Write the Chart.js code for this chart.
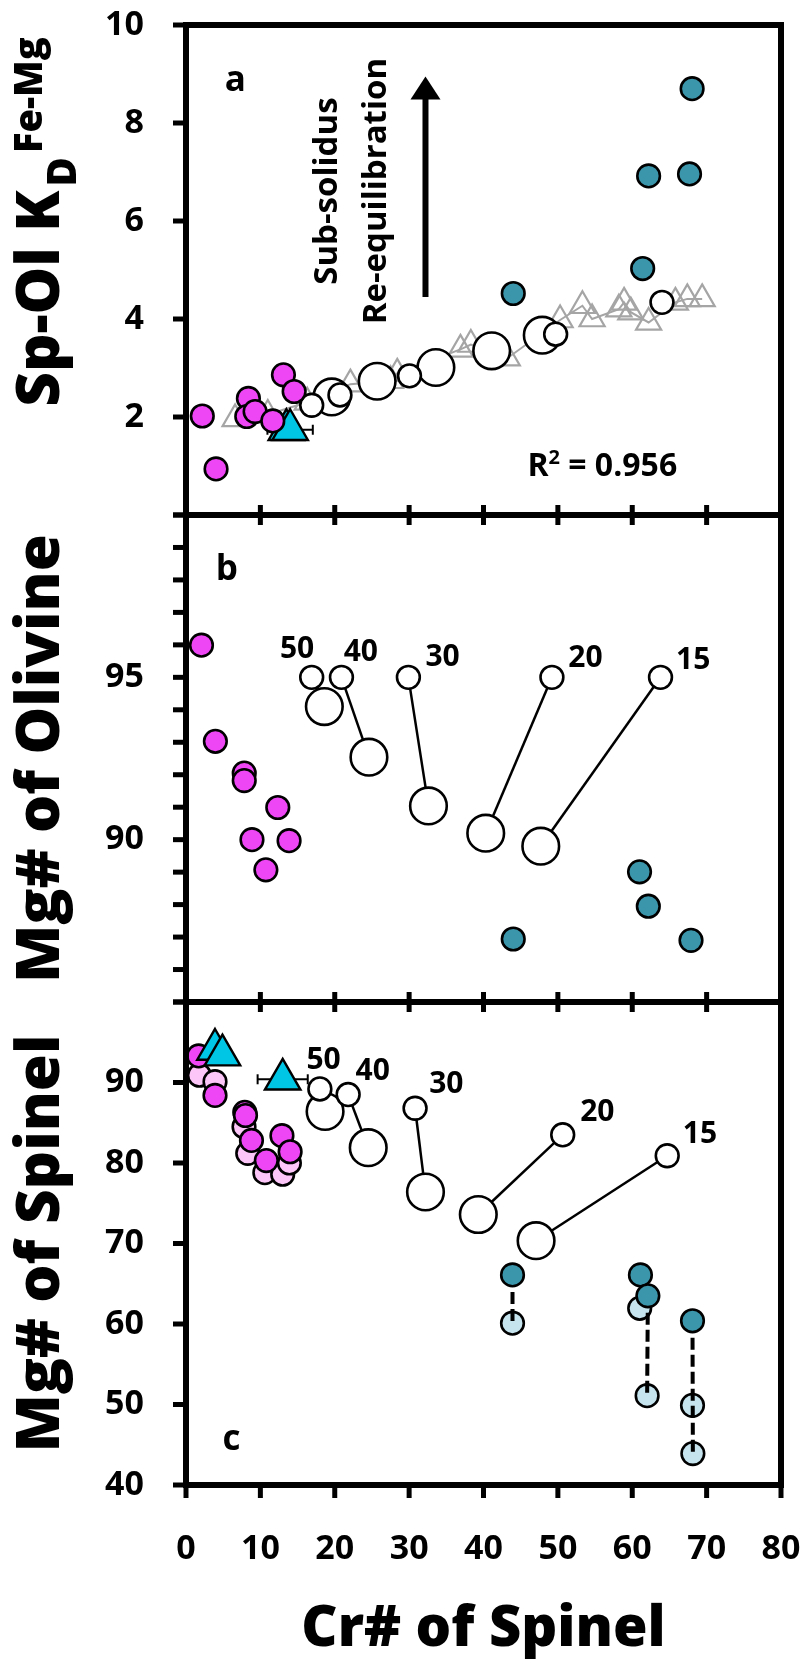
<!DOCTYPE html>
<html><head><meta charset="utf-8">
<script src="https://cdn.jsdelivr.net/npm/chart.js@4.4.1/dist/chart.umd.min.js"></script>
<style>
html,body{margin:0;padding:0;background:#fff;}
#wrap{position:relative;width:805px;height:1659px;overflow:hidden;background:#fff;}
canvas{position:absolute;left:0;top:0;}
</style></head><body>
<div id="wrap">
<canvas id="ca" width="805" height="1659"></canvas>
<canvas id="cb" width="805" height="1659"></canvas>
<canvas id="cc" width="805" height="1659"></canvas>
</div>
<script>
// ---------------- data ----------------
const xTickValues = [0, 10, 20, 30, 40, 50, 60, 70, 80];
const xTickLabels = ['0', '10', '20', '30', '40', '50', '60', '70', '80'];
const aTickLabels = [2, 4, 6, 8, 10];
const bTickLabels = [90, 95];
const cTickLabels = [40, 50, 60, 70, 80, 90];
const meltLabels = ['50', '40', '30', '20', '15'];

// panel a : Sp-Ol KD vs Cr#
const aMagenta = [[2.19, 2.02], [4.04, 0.94], [8.39, 2.38], [8.17, 2.01], [9.29, 2.11], [11.67, 1.92], [13.1, 2.86], [14.54, 2.52]];
const aTeal = [[44.0, 4.52], [61.4, 5.03], [62.2, 6.92], [67.7, 6.96], [68.05, 8.70]];
const aCyan = [[13.5, 1.74], [14.0, 1.74]];
const aCyanErr = [[14.0, 1.74, 3.05]];
const aModelSmall = [[16.9, 2.24], [20.7, 2.45], [30.05, 2.84], [49.7, 3.69], [64.0, 4.34]];
const aModelLarge = [[19.6, 2.41], [25.7, 2.73], [33.6, 3.01], [41.1, 3.35], [47.9, 3.67]];
const aGrey = [[6.6, 1.96], [11.0, 2.05], [16.3, 2.3], [22.1, 2.67], [27.5, 2.74], [28.4, 2.89], [36.9, 3.38], [38.3, 3.48], [43.2, 3.2], [50.3, 3.98], [53.3, 4.27], [54.6, 4.0], [58.2, 4.2], [58.9, 4.34], [59.8, 4.14], [62.2, 3.93], [65.8, 4.34], [67.4, 4.41], [69.4, 4.41]];
const aArrow = [32.2, 4.45, 8.95];          // x, from, to
const aNoteText = ['Sub-solidus', 'Re-equilibration'];
const aNoteX = [19.1, 25.6];
const aNoteY = 6.61;
const aR2 = [45.9, 0.8];

// panel b : Mg# of olivine
const bMagenta = [[2.08, 95.99], [3.95, 93.03], [7.83, 92.05], [7.83, 91.82], [8.87, 90.0], [13.86, 89.97], [12.34, 90.99], [10.74, 89.07]];
const bTeal = [[60.98, 89.01], [62.16, 87.95], [44.0, 86.94], [67.9, 86.9]];
const bModelSmall = [[16.9, 95.0], [20.9, 95.0], [29.9, 95.0], [49.2, 95.0], [63.8, 95.0]];
const bModelLarge = [[18.6, 94.1], [24.6, 92.54], [32.6, 91.04], [40.3, 90.2], [47.7, 89.8]];
const bLabelPos = [[14.94, 95.87], [23.5, 95.76], [34.5, 95.61], [53.7, 95.58], [68.2, 95.53]];

// panel c : Mg# of spinel
const cMagenta = [[1.7, 93.3], [3.9, 88.4], [7.9, 86.3], [8.0, 85.9], [8.8, 82.8], [10.8, 80.3], [12.9, 83.4], [14.0, 81.4]];
const cPink = [[1.8, 90.9], [3.9, 90.1], [7.8, 84.5], [8.3, 81.2], [10.6, 78.8], [13.0, 78.6], [13.9, 80.0]];
const cTeal = [[43.9, 66.1], [61.1, 66.1], [62.1, 63.5], [68.1, 60.4]];
const cLight = [[43.9, 60.1], [61.0, 61.95], [62.0, 51.1], [68.1, 49.9], [68.15, 43.9]];
const cDash = [[[43.9, 66.1], [43.9, 60.1]], [[61.1, 66.1], [61.0, 61.95]], [[62.1, 63.5], [62.0, 51.1]], [[68.1, 60.4], [68.15, 43.9]]];
const cCyan = [[3.9, 94.1], [4.9, 93.4], [13.0, 90.4]];
const cCyanErr = [[13.0, 90.4, 3.37]];
const cModelSmall = [[18.0, 89.2], [21.8, 88.5], [30.8, 86.8], [50.65, 83.5], [64.7, 80.9]];
const cModelLarge = [[18.7, 86.4], [24.5, 81.9], [32.2, 76.4], [39.3, 73.6], [47.07, 70.35]];
const cLabelPos = [[18.5, 92.75], [25.1, 91.4], [35.0, 89.73], [55.3, 86.27], [69.1, 83.6]];

const panelLetters = [['a', 5.2, 8.66], ['b', 4.0, 98.0], ['c', 4.9, 44.35]];

// ---------------- styling / layout ----------------
const F = {left: 186, right: 781, top: 25, ab: 515, bc: 1002, bottom: 1485, W: 805, H: 1659};
const COL = {magenta: '#ee45f5', pink: '#fcc6f8', teal: '#3c96ab', light: '#c6e4ee', cyan: '#00c6e6', grey: '#a5a5a5'};
const FAM = '"Open Sans"';
const TICK_FONT = {family: FAM, weight: 'bold', size: 34};

const pts = arr => arr.map(([x, y]) => ({x, y}));
function circles(arr, fill, r, order) {
  return {data: pts(arr), pointStyle: 'circle', pointRadius: r, pointHoverRadius: r, pointBackgroundColor: fill,
    pointBorderColor: '#000', pointBorderWidth: 2.6, pointHoverBorderWidth: 2.6, showLine: false, order, clip: false};
}
function tris(arr, fill, stroke, r, bw, order, showLine) {
  return {data: pts(arr), pointStyle: 'triangle', pointRadius: r, pointHoverRadius: r, pointBackgroundColor: fill,
    pointBorderColor: stroke, pointBorderWidth: bw, pointHoverBorderWidth: bw, showLine: !!showLine,
    borderColor: stroke, borderWidth: 2, order, clip: false};
}
function seg(a, b, dash, width, order) {
  return {data: pts([a, b]), showLine: true, pointRadius: 0, pointHoverRadius: 0, borderColor: '#000',
    borderWidth: width, borderDash: dash, order, clip: false, fill: false};
}

function line(ctx, x1, y1, x2, y2) { ctx.beginPath(); ctx.moveTo(x1, y1); ctx.lineTo(x2, y2); ctx.stroke(); }

function drawFrame(chart, spec) {
  const {ctx, chartArea: ca, scales: {x, y}} = chart;
  ctx.save();
  ctx.strokeStyle = '#000';
  ctx.lineWidth = 5;
  y.ticks.forEach(t => { const py = y.getPixelForValue(t.value); line(ctx, ca.left - 13, py, ca.left, py); });
  xTickValues.forEach(v => {
    const px = x.getPixelForValue(v);
    if (spec.xCross) line(ctx, px, ca.bottom - 10, px, ca.bottom + 10);
    else line(ctx, px, ca.bottom, px, ca.bottom + 13);
  });
  ctx.lineWidth = 6;
  ctx.lineCap = 'square';
  line(ctx, ca.left, ca.top, ca.left, ca.bottom);
  line(ctx, ca.right, ca.top, ca.right, ca.bottom);
  line(ctx, ca.left, ca.bottom, ca.right, ca.bottom);
  if (spec.topLine) line(ctx, ca.left, ca.top, ca.right, ca.top);
  ctx.restore();
}

function drawErrors(chart, errs) {
  const {ctx, scales: {x, y}} = chart;
  ctx.save();
  ctx.strokeStyle = '#000';
  ctx.lineWidth = 2;
  errs.forEach(([vx, vy, e]) => {
    const py = y.getPixelForValue(vy);
    const x1 = x.getPixelForValue(vx - e), x2 = x.getPixelForValue(vx + e);
    line(ctx, x1, py, x2, py);
    line(ctx, x1, py - 5, x1, py + 5);
    line(ctx, x2, py - 5, x2, py + 5);
  });
  ctx.restore();
}

function drawRotated(ctx, segs, baseX, centerY, gap) {
  ctx.save();
  const widths = segs.map(s => { ctx.font = `800 ${s.size}px ${FAM}`; return ctx.measureText(s.t).width; });
  const total = widths.reduce((a, b) => a + b, 0) + (segs.length - 1) * gap;
  ctx.translate(baseX, centerY + total / 2);
  ctx.rotate(-Math.PI / 2);
  ctx.fillStyle = '#000';
  ctx.textAlign = 'left';
  ctx.textBaseline = 'alphabetic';
  let cx = 0;
  segs.forEach((s, i) => { ctx.font = `800 ${s.size}px ${FAM}`; ctx.fillText(s.t, cx, s.dy); cx += widths[i] + gap; });
  ctx.restore();
}

function drawLetter(chart, idx) {
  const {ctx, scales: {x, y}} = chart;
  const [t, vx, vy] = panelLetters[idx];
  ctx.save();
  ctx.fillStyle = '#000';
  ctx.font = `bold 35px ${FAM}`;
  ctx.textAlign = 'left';
  ctx.textBaseline = 'alphabetic';
  ctx.fillText(t, x.getPixelForValue(vx), y.getPixelForValue(vy));
  ctx.restore();
}

function drawMeltLabels(chart, pos) {
  const {ctx, scales: {x, y}} = chart;
  ctx.save();
  ctx.fillStyle = '#000';
  ctx.font = `bold 30px ${FAM}`;
  ctx.textAlign = 'center';
  ctx.textBaseline = 'middle';
  meltLabels.forEach((t, i) => ctx.fillText(t, x.getPixelForValue(pos[i][0]), y.getPixelForValue(pos[i][1])));
  ctx.restore();
}

function makeChart(id, spec) {
  const plugin = {
    id: 'panel_' + id,
    beforeDatasetsDraw(chart) { if (spec.errors) drawErrors(chart, spec.errors); },
    afterDatasetsDraw(chart) { drawFrame(chart, spec); },
    afterDraw(chart) { spec.extra(chart); }
  };
  return new Chart(document.getElementById(id), {
    type: 'scatter',
    data: {datasets: spec.datasets},
    options: {
      responsive: false, animation: false, events: [], devicePixelRatio: 1,
      layout: {padding: {left: 0, right: F.W - F.right, top: spec.top, bottom: spec.padBottom}},
      plugins: {legend: {display: false}, tooltip: {enabled: false}},
      scales: {
        x: {type: 'linear', min: 0, max: 80, display: spec.showX,
          afterFit: s => { s.height = spec.xHeight; s.paddingLeft = 0; s.paddingRight = 0; },
          grid: {display: false, drawTicks: false}, border: {display: false},
          ticks: {stepSize: 10, autoSkip: false, maxRotation: 0, minRotation: 0, padding: 44, font: TICK_FONT, color: '#000',
            callback: v => { const i = xTickValues.indexOf(v); return i >= 0 ? xTickLabels[i] : ''; }}},
        y: {type: 'linear', min: spec.ymin, max: spec.ymax,
          afterFit: s => { s.width = F.left; s.paddingTop = 0; s.paddingBottom = 0; },
          grid: {display: false, drawTicks: false}, border: {display: false},
          ticks: {stepSize: spec.step, autoSkip: false, padding: 42, font: TICK_FONT, color: '#000',
            callback: v => spec.labels.includes(v) ? String(v) : ''}}
      }
    },
    plugins: [plugin]
  });
}

// ---------- panel a ----------
makeChart('ca', {
  top: F.top, padBottom: F.H - F.ab, showX: false, xHeight: 0, ymin: 0, ymax: 10, step: 2, labels: aTickLabels,
  xCross: true, topLine: true, errors: aCyanErr,
  datasets: [
    circles(aMagenta, COL.magenta, 11.3, 1),
    tris(aCyan, COL.cyan, '#000', 20.5, 2.4, 2),
    circles(aTeal, COL.teal, 11.3, 3),
    circles(aModelSmall, '#fff', 11.4, 4),
    circles(aModelLarge, '#fff', 18.3, 5),
    tris(aGrey, 'rgba(0,0,0,0)', COL.grey, 14.5, 2.2, 6, true)
  ],
  extra(chart) {
    const {ctx, scales: {x, y}} = chart;
    drawRotated(ctx, [{t: 'Sp-Ol K', size: 60, dy: 0}, {t: 'D', size: 40, dy: 17}, {t: 'Fe-Mg', size: 38, dy: -17}], 59, 222, 4);
    drawLetter(chart, 0);
    // arrow
    ctx.save();
    const ax = x.getPixelForValue(aArrow[0]), y0 = y.getPixelForValue(aArrow[1]), y1 = y.getPixelForValue(aArrow[2]);
    ctx.strokeStyle = '#000'; ctx.fillStyle = '#000'; ctx.lineWidth = 6;
    line(ctx, ax, y0, ax, y1 + 18);
    ctx.beginPath(); ctx.moveTo(ax, y1); ctx.lineTo(ax + 15, y1 + 23); ctx.lineTo(ax - 15, y1 + 23); ctx.closePath(); ctx.fill();
    // rotated note
    ctx.font = `bold 33px ${FAM}`; ctx.textAlign = 'center'; ctx.textBaseline = 'middle';
    aNoteText.forEach((t, i) => {
      ctx.save(); ctx.translate(x.getPixelForValue(aNoteX[i]), y.getPixelForValue(aNoteY)); ctx.rotate(-Math.PI / 2);
      ctx.fillText(t, 0, 0); ctx.restore();
    });
    // R^2
    ctx.textAlign = 'left'; ctx.textBaseline = 'alphabetic';
    let rx = x.getPixelForValue(aR2[0]); const ry = y.getPixelForValue(aR2[1]);
    ctx.font = `bold 32px ${FAM}`; ctx.fillText('R', rx, ry); rx += ctx.measureText('R').width;
    ctx.font = `bold 20px ${FAM}`; ctx.fillText('2', rx, ry - 12); rx += ctx.measureText('2').width;
    ctx.font = `bold 32px ${FAM}`; ctx.fillText(' = 0.956', rx, ry);
    ctx.restore();
  }
});

// ---------- panel b ----------
const bDatasets = [
  circles(bMagenta, COL.magenta, 11.3, 1),
  circles(bTeal, COL.teal, 11.3, 2),
  circles(bModelSmall, '#fff', 11.4, 3),
  circles(bModelLarge, '#fff', 18.3, 4)
];
bModelSmall.forEach((p, i) => bDatasets.push(seg(p, bModelLarge[i], [], 2.5, 5)));
makeChart('cb', {
  top: F.ab, padBottom: F.H - F.bc, showX: false, xHeight: 0, ymin: 85, ymax: 100, step: 1, labels: bTickLabels,
  xCross: true, topLine: false, datasets: bDatasets,
  extra(chart) {
    drawRotated(chart.ctx, [{t: 'Mg# of Olivine', size: 60, dy: 0}], 59, (F.ab + F.bc) / 2, 0);
    drawLetter(chart, 1);
    drawMeltLabels(chart, bLabelPos);
  }
});

// ---------- panel c ----------
const cDatasets = [
  tris(cCyan, COL.cyan, '#000', 20.5, 2.4, 1),
  circles(cMagenta, COL.magenta, 11.3, 2),
  circles(cPink, COL.pink, 11.3, 3),
  circles(cTeal, COL.teal, 11.3, 4)
];
cDash.forEach(d => cDatasets.push(seg(d[0], d[1], [12, 5], 4, 5)));
cDatasets.push(circles(cLight, COL.light, 11.3, 6));
cDatasets.push(circles(cModelSmall, '#fff', 11.4, 7));
cDatasets.push(circles(cModelLarge, '#fff', 18.3, 8));
cModelSmall.forEach((p, i) => cDatasets.push(seg(p, cModelLarge[i], [], 2.5, 9)));
makeChart('cc', {
  top: F.bc, padBottom: 0, showX: true, xHeight: F.H - F.bottom, ymin: 40, ymax: 100, step: 10, labels: cTickLabels,
  xCross: false, topLine: false, errors: cCyanErr, datasets: cDatasets,
  extra(chart) {
    const {ctx, chartArea: ca} = chart;
    drawRotated(ctx, [{t: 'Mg# of Spinel', size: 60, dy: 0}], 59, (F.bc + F.bottom) / 2, 0);
    drawLetter(chart, 2);
    drawMeltLabels(chart, cLabelPos);
    ctx.save();
    ctx.fillStyle = '#000'; ctx.font = `800 56px ${FAM}`; ctx.textAlign = 'center'; ctx.textBaseline = 'alphabetic';
    ctx.fillText('Cr# of Spinel', (ca.left + ca.right) / 2, 1646);
    ctx.restore();
  }
});
</script></body></html>
